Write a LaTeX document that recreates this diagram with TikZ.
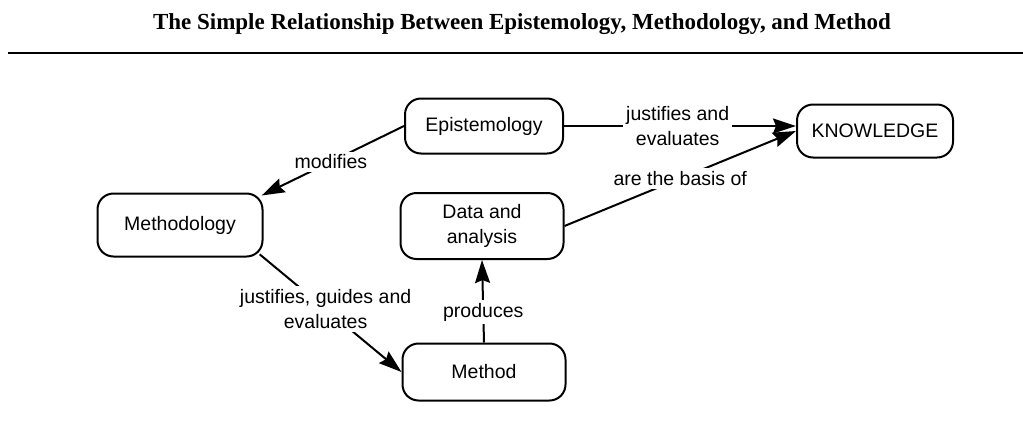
\documentclass[tikz,border=0pt]{standalone}
\usepackage{fontspec}
\setmainfont{Liberation Serif}
\setsansfont{Liberation Sans}
\usetikzlibrary{arrows.meta}
\begin{document}
\begin{tikzpicture}[x=1pt,y=-1pt,
  box/.style={draw, line width=2pt, rounded corners=16pt, align=center,
    font=\sffamily\fontsize{19.5}{25}\selectfont, inner sep=0pt},
  conn/.style={line width=2pt, -{Stealth[length=23pt,width=15pt,inset=3pt]}},
  lbl/.style={fill=white, align=center, inner sep=3pt,
    font=\sffamily\fontsize{19.5}{25}\selectfont}]
\useasboundingbox (0,0) rectangle (1023,421);
\node[font=\bfseries\fontsize{23}{27}\selectfont] (title) at (522,24) {The Simple Relationship Between Epistemology, Methodology, and Method};
\coordinate (rl) at (8,53);
\coordinate (rr) at (1023,53);
\draw[line width=2pt] (rl) -- (rr);

\node[box, minimum width=158pt, minimum height=55pt] (epi) at (484,126) {Epistemology};
\node[box, minimum width=156pt, minimum height=53pt] (kn) at (875,131) {KNOWLEDGE};
\node[box, minimum width=165pt, minimum height=63pt] (meth) at (180,225) {Methodology};
\node[box, minimum width=163pt, minimum height=66pt] (data) at (482,226) {Data and\\analysis};
\node[box, minimum width=163pt, minimum height=57pt] (method) at (484,372) {Method};

\draw[conn, shorten >=-2pt] (epi.west) -- (meth.20) node[lbl, pos=0.52] {modifies};
\draw[conn] (epi.east) -- (epi.east -| kn.west) node[lbl, pos=0.49] {justifies and\\evaluates};
\draw[conn] (data.east) -- (kn.west) node[lbl, pos=0.5] {are the basis of};
\draw[conn, shorten <=-5pt] (meth.south east) -- (method.west) node[lbl, pos=0.45] {justifies, guides and\\evaluates};
\draw[conn] (method.north) -- (data.south) node[lbl, pos=0.37] {produces};
\end{tikzpicture}
\end{document}
